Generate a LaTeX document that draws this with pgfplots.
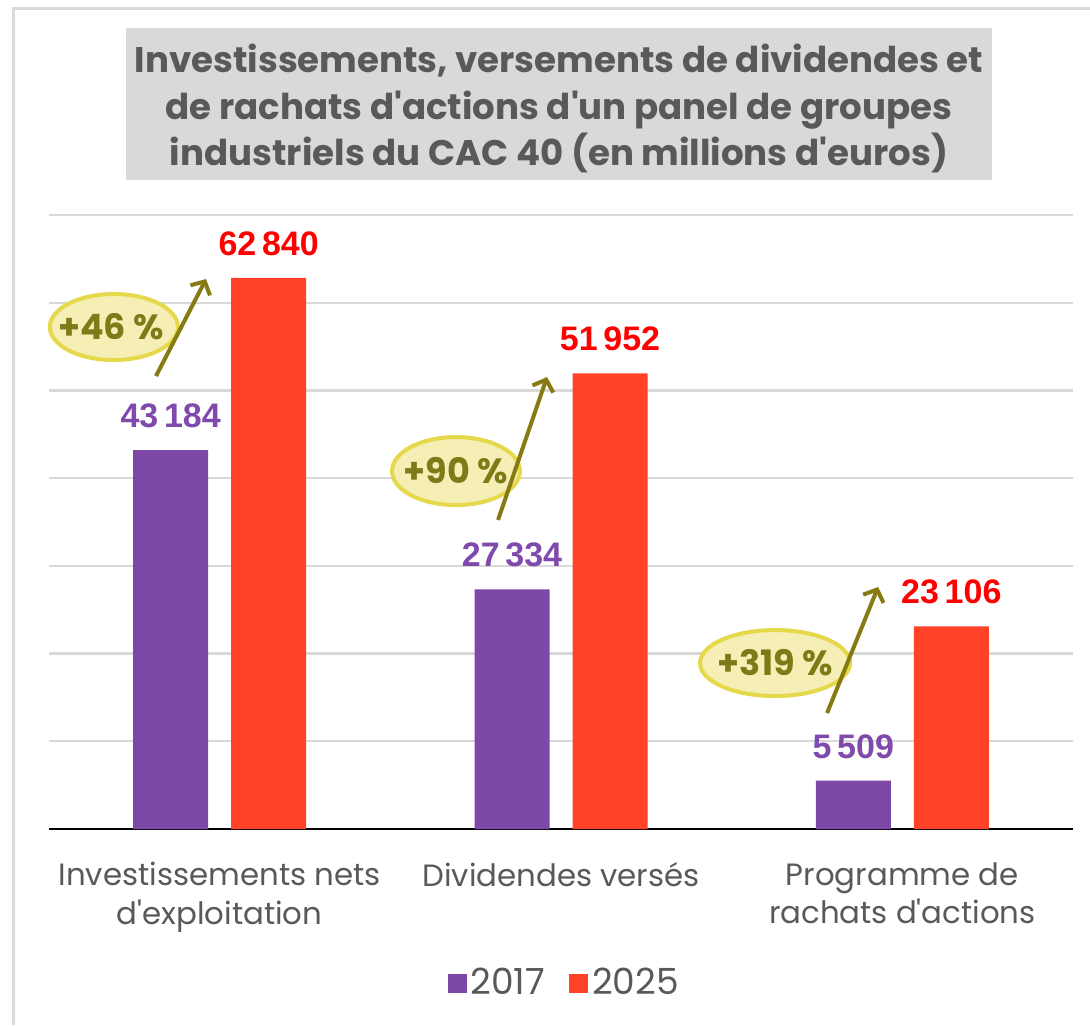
\documentclass[border=0pt]{standalone}
\usepackage{pgfplots}
\pgfplotsset{compat=1.18}
\usepackage{fontspec}
\setmainfont{Poppins}
\newfontfamily\valfont{Liberation Sans}
\usetikzlibrary{arrows.meta}
\newcommand{\q}{\textquotesingle}

\definecolor{cpurple}{HTML}{7E48A8}
\definecolor{cred}{HTML}{FF4228}
\definecolor{lblred}{HTML}{FF0000}
\definecolor{lblpurple}{HTML}{7F4AAB}
\definecolor{gridc}{HTML}{D9D9D9}
\definecolor{tickc}{HTML}{595959}
\definecolor{titlec}{HTML}{595959}
\definecolor{titlebg}{HTML}{D9D9D9}
\definecolor{borderc}{HTML}{DADADA}
\definecolor{ellfill}{HTML}{F5EFB6}
\definecolor{elldraw}{HTML}{E6D84B}
\definecolor{olivec}{HTML}{857B12}
\definecolor{olivetext}{HTML}{7F7A18}

\begin{document}
\begin{tikzpicture}
\path[use as bounding box, fill=white] (0,0) rectangle (545pt,512.5pt);
\draw[line width=1.5pt, color=borderc] (6.5pt,0) -- (6.5pt,508pt) -- (545pt,508pt);
\fill[titlebg] (63pt,422.5pt) rectangle (496pt,498.5pt);
\begin{scope}[every node/.style={anchor=base, inner sep=0pt, text=titlec, font=\bfseries\fontsize{17.8}{20}\selectfont}]
\node at (279.5pt,476pt) {Investissements, versements de dividendes et};
\node at (279.5pt,452.5pt) {de rachats d\q actions d\q un panel de groupes};
\node at (279.5pt,429.5pt) {industriels du CAC 40 (en millions d\q euros)};
\end{scope}

\begin{axis}[
  at={(24.5pt,98pt)}, anchor=south west,
  scale only axis, width=512pt, height=307pt,
  xmin=-0.5, xmax=2.5, ymin=0, ymax=70000,
  ybar, bar width=37.5pt,
  axis x line=bottom, axis y line=left,
  y axis line style={draw=none},
  x axis line style={black, line width=1pt, -},
  ytick={0,10000,20000,30000,40000,50000,60000,70000},
  yticklabels={}, scaled y ticks=false,
  major tick length=0pt,
  ymajorgrids, grid style={gridc, line width=1.2pt},
  xtick={0,1,2},
  xticklabels={{Investissements nets\\d\q exploitation},{Dividendes versés},{Programme de\\rachats d\q actions}},
  xticklabel style={align=center, font=\fontsize{15.4}{19.2}\selectfont, text=tickc, anchor=north, inner sep=0pt, yshift=-16.5pt},
  clip=false,
  legend style={at={(0.504,-0.251)}, anchor=center, draw=none, fill=none,
    legend columns=2, font=\fontsize{18}{21}\selectfont, text=tickc,
    /tikz/every even column/.append style={column sep=10pt}},
  legend image code/.code={\fill[#1] (0pt,-4.75pt) rectangle (9.5pt,4.75pt);},
  nodes near coords style={anchor=base, inner sep=0pt, yshift=11.25pt, font=\valfont\bfseries\fontsize{17}{20}\selectfont},
]
\addplot[fill=cpurple, draw=none, bar shift=-24.5pt, nodes near coords, point meta=explicit symbolic,
  every node near coord/.append style={text=lblpurple}]
  coordinates {(0,43184) [43\,184] (1,27334) [27\,334] (2,5509) [5\,509]};
\addlegendentry{2017}
\addplot[fill=cred, draw=none, bar shift=24.5pt, nodes near coords, point meta=explicit symbolic,
  every node near coord/.append style={text=lblred}]
  coordinates {(0,62840) [62\,840] (1,51952) [51\,952] (2,23106) [23\,106]};
\addlegendentry{2025}

\draw[fill=ellfill, draw=elldraw, line width=2pt] (axis cs:-0.310,57230) ellipse [x radius=32pt, y radius=16.5pt];
\node[font=\bfseries\fontsize{17.5}{20}\selectfont, text=olivetext] at (axis cs:-0.318,57230) {+46 \%};
\draw[olivec, line width=2pt, -{Straight Barb[length=5pt,width=11pt]}] (axis cs:-0.1865,51640) -- (axis cs:-0.040,62700);

\draw[fill=ellfill, draw=elldraw, line width=2pt] (axis cs:0.6925,40810) ellipse [x radius=32pt, y radius=17pt];
\node[font=\bfseries\fontsize{17.5}{20}\selectfont, text=olivetext] at (axis cs:0.6925,40810) {+90 \%};
\draw[olivec, line width=2pt, -{Straight Barb[length=5pt,width=11pt]}] (axis cs:0.8155,35230) -- (axis cs:0.959,51530);

\draw[fill=ellfill, draw=elldraw, line width=2pt] (axis cs:1.627,18920) ellipse [x radius=37.5pt, y radius=16.5pt];
\node[font=\bfseries\fontsize{17.5}{20}\selectfont, text=olivetext] at (axis cs:1.627,18920) {+319 \%};
\draw[olivec, line width=2pt, -{Straight Barb[length=5pt,width=11pt]}] (axis cs:1.7795,13220) -- (axis cs:1.929,27590);
\end{axis}
\end{tikzpicture}
\end{document}
